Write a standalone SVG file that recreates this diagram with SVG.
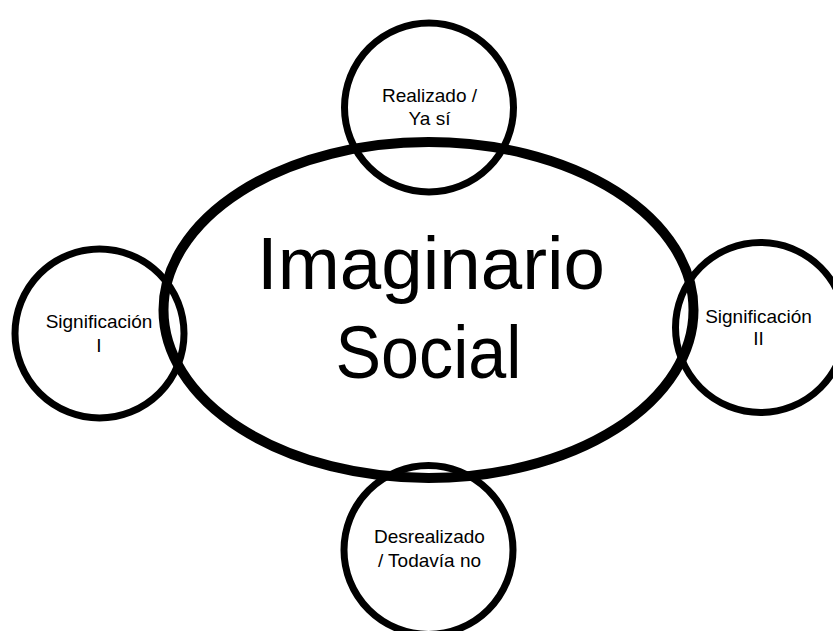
<svg xmlns="http://www.w3.org/2000/svg" width="833" height="631" viewBox="0 0 833 631">
  <style>
    .bg { fill: #ffffff; }
    .ring { fill: none; stroke: #000000; stroke-width: 7; }
    .big { fill: none; stroke: #000000; stroke-width: 10; }
    .lbl { font-family: "Liberation Sans", Arial, sans-serif; font-size: 19px; fill: #000000; text-anchor: middle; }
    .main { font-family: "Liberation Sans", Arial, sans-serif; font-size: 74px; fill: #000000; text-anchor: middle; }
  </style>
  <rect class="bg" x="0" y="0" width="833" height="631"/>
  <g id="connectors"></g>
  <g id="node-imaginario-social">
    <ellipse class="big" cx="428.5" cy="310" rx="265" ry="168"/>
    <text class="main" x="431" y="289" textLength="348" lengthAdjust="spacingAndGlyphs">Imaginario</text>
    <text class="main" x="428.5" y="378" textLength="186" lengthAdjust="spacingAndGlyphs">Social</text>
  </g>
  <g id="node-realizado">
    <circle class="ring" cx="429" cy="107.5" r="84.5"/>
    <text class="lbl" x="429.5" y="102">Realizado /</text>
    <text class="lbl" x="429.5" y="125">Ya sí</text>
  </g>
  <g id="node-significacion-1">
    <circle class="ring" cx="99.5" cy="333.5" r="84.5"/>
    <text class="lbl" x="99" y="328">Significación</text>
    <text class="lbl" x="99" y="352">I</text>
  </g>
  <g id="node-significacion-2">
    <circle class="ring" cx="760.5" cy="327.5" r="85"/>
    <text class="lbl" x="758.5" y="322.5">Significación</text>
    <text class="lbl" x="758.5" y="345">II</text>
  </g>
  <g id="node-desrealizado">
    <circle class="ring" cx="428.5" cy="550" r="84.5"/>
    <text class="lbl" x="429.5" y="543">Desrealizado</text>
    <text class="lbl" x="429.5" y="567">/ Todavía no</text>
  </g>
</svg>
